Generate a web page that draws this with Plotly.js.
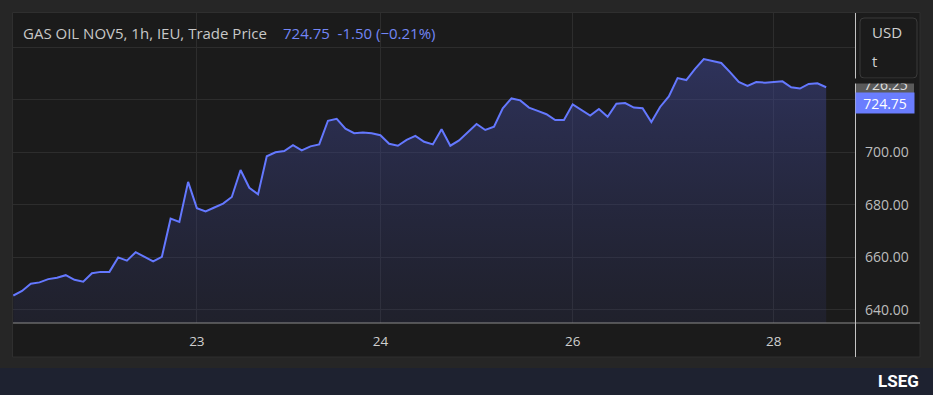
<!DOCTYPE html>
<html>
<head>
<meta charset="utf-8">
<script src="https://cdn.plot.ly/plotly-3.0.1.min.js"></script>
<style>
  html, body { margin: 0; padding: 0; background: #262626; }
  #chart { width: 933px; height: 395px; }
</style>
</head>
<body>
<div id="chart"></div>
<script>
// ---- data ----
const instrument = 'GAS OIL NOV5, 1h, IEU, Trade Price';
const currency = 'USD';
const unit = 't';
const prices = [
  645.5, 647.25, 650.0, 650.5, 651.75, 652.25, 653.25, 651.5, 650.75, 654.0,
  654.5, 654.5, 660.0, 658.75, 662.0, 660.25, 658.5, 660.25, 674.75, 673.5,
  688.75, 678.75, 677.5, 679.0, 680.5, 683.0, 693.25, 686.5, 684.0, 698.5,
  700.0, 700.5, 702.75, 700.75, 702.25, 703.0, 712.0, 712.75, 709.0, 707.25,
  707.5, 707.25, 706.5, 703.25, 702.5, 704.75, 706.25, 704.0, 703.0, 708.75,
  702.5, 704.5, 707.75, 710.75, 708.5, 709.75, 716.75, 720.5, 719.75, 717.0,
  715.75, 714.5, 712.25, 712.25, 718.25, 716.0, 714.0, 716.5, 713.5, 718.5,
  718.75, 717.0, 716.75, 711.5, 717.25, 721.25, 728.25, 727.5, 731.75, 735.5,
  734.75, 734.0, 730.5, 726.75, 725.25, 726.75, 726.5, 726.75, 727.0, 724.75,
  724.25, 726.0, 726.25, 724.75
];
const barIndex = prices.map((_, i) => i);
const xTickIdx = [21, 42, 64, 87];
const xTickText = ['23', '24', '26', '28'];
const yTickVals = [640, 660, 680, 700, 720, 740];
const yTickText = ['640.00', '660.00', '680.00', '700.00', '', ''];

const last = prices[prices.length - 1];
const prev = prices[prices.length - 2];
const chg = last - prev;
const pct = chg / prev * 100;
const chgText = (chg < 0 ? '-' : '+') + Math.abs(chg).toFixed(2);
const pctText = (pct < 0 ? '\u2212' : '+') + Math.abs(pct).toFixed(2) + '%';

// ---- layout helpers (pixel -> paper) ----
const L = 13, R = 855, T = 13, B = 323;
const px = x => (x - L) / (R - L);
const py = y => (B - y) / (B - T);

const LINE = '#6478ff';
const PANEL = '#1b1b1b';
const FONT = 'Open Sans, Noto Sans, sans-serif';

const trace = {
  x: barIndex, y: prices, type: 'scatter', mode: 'lines',
  line: { color: LINE, width: 2 },
  fill: 'tozeroy',
  fillgradient: {
    type: 'vertical', start: 635, stop: 736,
    colorscale: [[0, 'rgba(50,55,110,0.2)'], [1, 'rgba(64,72,150,0.52)']]
  },
  hoverinfo: 'skip'
};

// rounded rect path in paper coords
function roundRect(x0, y0, x1, y1, r) {
  const rx = r / (R - L), ry = r / (B - T);
  const X0 = px(x0), X1 = px(x1), Y0 = py(y0), Y1 = py(y1);
  return `M ${X0 + rx} ${Y0} L ${X1 - rx} ${Y0} Q ${X1} ${Y0} ${X1} ${Y0 - ry} ` +
         `L ${X1} ${Y1 + ry} Q ${X1} ${Y1} ${X1 - rx} ${Y1} L ${X0 + rx} ${Y1} ` +
         `Q ${X0} ${Y1} ${X0} ${Y1 + ry} L ${X0} ${Y0 - ry} Q ${X0} ${Y0} ${X0 + rx} ${Y0} Z`;
}

const layout = {
  width: 933, height: 395,
  margin: { l: L, r: 933 - R, t: T, b: 395 - B, pad: 0 },
  paper_bgcolor: '#262626',
  plot_bgcolor: PANEL,
  showlegend: false,
  hovermode: false,
  font: { family: FONT, color: '#c8c8c8' },
  xaxis: {
    range: [-0.034, 96.3], fixedrange: true,
    tickvals: xTickIdx, ticktext: xTickText,
    showgrid: true, gridcolor: '#2d2d2d', gridwidth: 1,
    zeroline: false, showline: false, ticks: '',
    ticklabelstandoff: 8,
    tickfont: { size: 13.5, color: '#cfcfcf', family: FONT }
  },
  yaxis: {
    side: 'right', range: [635.05, 753.0], fixedrange: true,
    tickvals: yTickVals, ticktext: yTickText,
    showgrid: true, gridcolor: '#2d2d2d', gridwidth: 1,
    zeroline: false, showline: false, ticks: '',
    ticklabelstandoff: 9,
    tickfont: { size: 14, color: '#bdbdbd', family: FONT }
  },
  shapes: [
    // panel background
    { type: 'rect', xref: 'paper', yref: 'paper', layer: 'below',
      x0: px(12.5), x1: px(920), y0: py(357), y1: py(12.5),
      fillcolor: PANEL, line: { color: '#2f2f2f', width: 1 } },
    // bottom banner
    { type: 'rect', xref: 'paper', yref: 'paper', layer: 'below',
      x0: px(0), x1: px(933), y0: py(395), y1: py(368),
      fillcolor: '#1e2230', line: { width: 0 } },
    // x axis line
    { type: 'line', xref: 'paper', yref: 'paper', layer: 'above',
      x0: 0, x1: px(920), y0: py(323), y1: py(323),
      line: { color: '#8c8c8c', width: 1.2 } },
    // y axis separator
    { type: 'line', xref: 'paper', yref: 'paper', layer: 'above',
      x0: px(855.5), x1: px(855.5), y0: py(357), y1: py(13),
      line: { color: '#c4c4c4', width: 1 } },
    // currency box
    { type: 'path', xref: 'paper', yref: 'paper', layer: 'above',
      path: roundRect(860, 18, 917, 78, 4),
      fillcolor: PANEL, line: { color: '#3a3a3a', width: 1 } },
    // previous close label box
    { type: 'rect', xref: 'paper', yref: 'paper', layer: 'above',
      x0: px(856), x1: px(914), y0: py(93.5), y1: py(82.7),
      fillcolor: '#5a5a5a', line: { width: 0 } }
  ],
  annotations: [
    { xref: 'paper', yref: 'paper', x: px(21), y: py(33), xanchor: 'left', yanchor: 'middle',
      text: instrument, showarrow: false,
      font: { size: 15, color: '#c8c8c8', family: FONT } },
    { xref: 'paper', yref: 'paper', x: px(281), y: py(33), xanchor: 'left', yanchor: 'middle',
      text: last.toFixed(2) + '\u00a0\u00a0' + chgText + ' (' + pctText + ')',
      showarrow: false,
      font: { size: 15, color: '#7386f5', family: FONT } },
    { xref: 'paper', yref: 'paper', x: px(870), y: py(32.5), xanchor: 'left', yanchor: 'middle',
      text: currency, showarrow: false,
      font: { size: 15, color: '#d0d0d0', family: FONT } },
    { xref: 'paper', yref: 'paper', x: px(870), y: py(61), xanchor: 'left', yanchor: 'middle',
      text: unit, showarrow: false,
      font: { size: 15, color: '#d0d0d0', family: FONT } },
    // previous close text
    { xref: 'paper', yref: 'y', x: px(886), y: prev, yshift: -1.5, xanchor: 'center', yanchor: 'middle',
      text: prev.toFixed(2), showarrow: false,
      font: { size: 14, color: '#e0e0e0', family: FONT } },
    // cover the top of the previous-close text
    { xref: 'paper', yref: 'paper', x: px(885), y: py(80.6), xanchor: 'center', yanchor: 'middle',
      text: ' ', showarrow: false, width: 60, height: 4, borderpad: 0,
      bgcolor: PANEL, font: { size: 2 } },
    // last price label
    { xref: 'paper', yref: 'y', x: px(885), y: last, yshift: -16, xanchor: 'center', yanchor: 'middle',
      text: last.toFixed(2), showarrow: false, width: 58, height: 20, borderpad: 0,
      bgcolor: '#6a7dff',
      font: { size: 14, color: '#ffffff', family: FONT } },
    // brand
    { xref: 'paper', yref: 'paper', x: px(921), y: py(381), xanchor: 'right', yanchor: 'middle',
      text: '<b>LSEG</b>', showarrow: false,
      font: { size: 17, color: '#ffffff', family: 'Roboto, sans-serif' } }
  ]
};

Plotly.newPlot('chart', [trace], layout, { displayModeBar: false, staticPlot: true });
</script>
</body>
</html>
